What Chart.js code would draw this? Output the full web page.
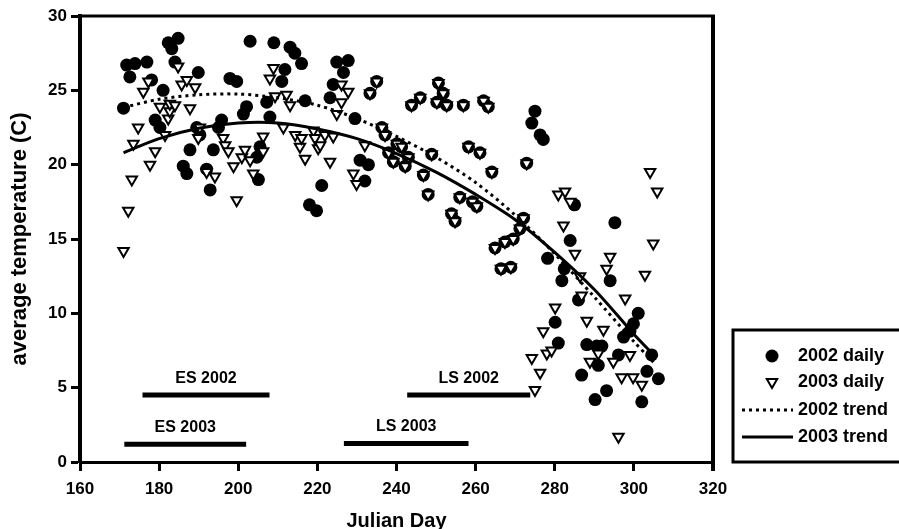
<!DOCTYPE html>
<html><head><meta charset="utf-8">
<script src="https://cdn.jsdelivr.net/npm/chart.js@4.4.1/dist/chart.umd.min.js"></script>
<style>html,body{margin:0;padding:0;background:#fff;}#wrap{width:899px;height:529px;}</style>
</head><body><div id="wrap"><canvas id="c" width="899" height="529"></canvas></div>
<script>
const days2002 = [171.0,171.8,172.6,173.9,176.9,178.1,179.0,180.2,181.0,182.3,183.2,184.0,184.8,186.1,187.0,187.8,189.5,189.9,190.3,192.0,192.9,193.7,195.0,195.8,197.9,199.6,201.3,202.1,203.0,204.7,205.1,205.5,207.2,208.0,209.0,211.0,211.8,213.1,214.3,216.0,216.9,218.0,219.8,221.1,223.2,224.0,224.9,226.6,227.8,229.5,230.8,232.0,232.9,
 233.3,235.0,236.3,237.1,238.0,239.2,240.1,241.3,242.2,243.0,243.8,246.0,246.8,248.0,248.9,250.2,250.6,251.8,252.7,253.9,254.8,256.0,256.9,258.2,259.2,260.3,261.1,262.0,263.2,264.1,264.9,266.4,267.4,268.9,269.5,271.2,272.1,272.9,
 274.2,275.0,276.3,277.1,278.2,280.1,280.9,281.8,282.4,283.9,285.0,286.0,286.8,288.1,290.2,290.6,291.0,291.9,293.1,294.0,295.2,296.1,297.4,299.0,299.9,301.1,302.0,303.3,304.5,306.2];
const temp2002 = [23.8,26.7,25.9,26.8,26.9,25.7,23.0,22.5,25.0,28.2,27.8,26.9,28.5,19.9,19.4,21.0,22.5,26.2,22.0,19.7,18.3,21.0,22.5,23.0,25.8,25.6,23.4,23.9,28.3,20.5,19.0,21.2,24.2,23.2,28.2,25.6,26.4,27.9,27.5,26.8,24.3,17.3,16.9,18.6,24.5,25.4,26.9,26.2,27.0,23.1,20.3,18.9,20.0,
 24.8,25.6,22.5,22.0,20.8,20.2,21.4,21.2,19.9,20.5,24.0,24.5,19.3,18.0,20.7,24.2,25.5,24.8,24.0,16.7,16.2,17.8,24.0,21.2,17.5,17.2,20.8,24.3,23.9,19.5,14.4,13.0,14.8,13.1,15.0,15.7,16.4,20.1,
 22.8,23.6,22.0,21.7,13.7,9.4,8.0,12.2,13.0,14.9,17.3,10.9,5.85,7.9,4.2,7.8,6.5,7.8,4.8,12.2,16.1,7.2,8.4,8.8,9.3,10.0,4.05,6.1,7.2,5.6];
const days2003 = [171.0,172.2,173.1,173.5,174.7,176.0,177.3,177.7,179.0,180.2,181.5,182.3,182.7,182.7,184.0,184.8,185.7,187.0,187.8,189.1,189.9,190.3,192.0,194.1,196.2,196.7,197.5,198.8,199.6,200.9,201.7,203.0,203.8,206.3,206.3,208.0,208.9,209.3,211.4,212.2,213.1,214.4,215.6,216.0,216.9,219.0,219.4,220.2,220.7,221.9,223.2,224.0,224.9,226.1,226.1,227.8,229.1,229.9,232.0,
 233.3,235.0,236.3,237.1,238.0,239.2,240.1,241.3,242.2,243.0,243.8,246.0,246.8,248.0,248.9,250.2,250.6,251.8,252.7,253.9,254.8,256.0,256.9,258.2,259.2,260.3,261.1,262.0,263.2,264.1,264.9,266.4,267.4,268.9,269.5,271.2,272.1,272.9,
 274.2,275.0,276.3,277.1,278.0,279.2,280.1,280.9,282.2,282.6,283.9,285.1,286.4,286.8,288.1,288.9,291.0,292.3,293.1,294.0,294.8,296.1,296.9,297.8,299.0,299.8,302.0,302.8,304.1,304.9,305.9];
const temp2003 = [14.2,16.9,19.0,21.4,22.5,24.9,25.6,20.0,20.9,23.9,22.0,23.1,23.6,24.1,24.0,26.6,25.4,25.7,23.8,25.2,21.8,22.5,19.5,19.2,21.8,21.3,20.9,19.9,17.6,20.5,21.0,20.3,19.4,21.9,20.9,25.8,26.5,24.6,22.5,24.7,24.0,22.0,21.2,21.8,20.4,22.3,21.8,21.1,21.3,22.0,20.2,21.9,23.4,24.2,25.4,24.9,19.4,18.7,21.3,
 24.8,25.6,22.5,22.0,20.8,20.2,21.4,21.2,19.9,20.5,24.0,24.5,19.3,18.0,20.7,24.2,25.5,24.8,24.0,16.7,16.2,17.8,24.0,21.2,17.5,17.2,20.8,24.3,23.9,19.5,14.4,13.0,14.8,13.1,15.0,15.7,16.4,20.1,
 7.0,4.85,6.0,8.8,7.3,7.5,10.4,18.0,15.9,18.2,17.5,14.0,12.5,11.2,9.5,6.75,7.3,8.9,13.0,13.8,6.75,1.7,5.7,11.0,7.2,5.7,5.2,12.6,19.5,14.7,18.2];
const trendDays = [171,180,190,200,210,220,230,240,250,260,270,280,290,300,305];
const trend2002 = [23.85,24.4,24.7,24.75,24.5,24.0,23.1,21.9,20.5,18.8,16.6,14.0,11.1,8.1,6.7];
const trend2003 = [20.8,21.75,22.45,22.8,22.8,22.4,21.75,20.75,19.5,18.0,16.3,14.1,11.6,8.6,7.2];
const periodNames = ['ES 2002','ES 2003','LS 2002','LS 2003'];
const periodStart = [175.8,171.2,242.7,226.7];
const periodEnd = [207.9,202.0,273.8,258.2];
const periodLevel = [4.5,1.2,4.5,1.25];
const seriesNames = ['2002 daily','2003 daily','2002 trend','2003 trend'];
const xTitle = 'Julian Day';
const yTitle = 'average temperature (C)';

const FONT = '"Liberation Sans", Arial, Helvetica, sans-serif';
const pts = (xs, ys) => xs.map((v, i) => ({x: v, y: ys[i]}));

const datasets = [
  {label: seriesNames[0], data: pts(days2002, temp2002), pointStyle: 'circle', pointRadius: 6.5,
   backgroundColor: '#000', borderColor: '#000', borderWidth: 0, showLine: false, order: 3},
  {label: seriesNames[1], data: pts(days2003, temp2003), pointStyle: 'triangle', rotation: 180, pointRadius: 6,
   backgroundColor: '#fff', borderColor: '#000', borderWidth: 2, showLine: false, order: 2},
  {label: seriesNames[2], data: pts(trendDays, trend2002), showLine: true, pointRadius: 0, borderColor: '#000',
   borderWidth: 3, borderDash: [3, 4], tension: 0.3, fill: false, order: 1},
  {label: seriesNames[3], data: pts(trendDays, trend2003), showLine: true, pointRadius: 0, borderColor: '#000',
   borderWidth: 3, tension: 0.3, fill: false, order: 1}
];
periodNames.forEach((n, i) => {
  datasets.push({label: n, data: [{x: periodStart[i], y: periodLevel[i]}, {x: periodEnd[i], y: periodLevel[i]}],
    showLine: true, pointRadius: 0, borderColor: '#000', borderWidth: 5, borderCapStyle: 'butt', order: 0});
});

const framePlugin = {
  id: 'frame',
  afterDraw(chart) {
    const {ctx, chartArea: a, scales: {x, y}} = chart;
    ctx.save();
    ctx.strokeStyle = '#000';
    ctx.lineWidth = 3;
    ctx.beginPath(); ctx.moveTo(a.left, a.top); ctx.lineTo(a.right + 2, a.top); ctx.stroke();
    ctx.lineWidth = 4;
    ctx.beginPath(); ctx.moveTo(a.right, a.top); ctx.lineTo(a.right, a.bottom + 9); ctx.stroke();
    ctx.fillStyle = '#000';
    ctx.font = 'bold 16px ' + FONT;
    ctx.textAlign = 'center'; ctx.textBaseline = 'middle';
    periodNames.forEach((n, i) => {
      ctx.fillText(n, x.getPixelForValue((periodStart[i] + periodEnd[i]) / 2), y.getPixelForValue(periodLevel[i]) - 17);
    });
    ctx.lineWidth = 3;
    ctx.strokeRect(733, 330, 200, 132);
    const rows = [356, 382, 410, 437];
    ctx.font = 'bold 18px ' + FONT;
    ctx.textAlign = 'left';
    seriesNames.forEach((n, i) => ctx.fillText(n, 798, rows[i]));
    Chart.helpers.drawPoint(ctx, {pointStyle: 'circle', radius: 6.5, rotation: 0, borderWidth: 0}, 772, rows[0]);
    ctx.fillStyle = '#fff'; ctx.lineWidth = 2;
    Chart.helpers.drawPoint(ctx, {pointStyle: 'triangle', radius: 6, rotation: 180, borderWidth: 2}, 772, rows[1]);
    ctx.lineWidth = 3;
    ctx.setLineDash([3, 4]);
    ctx.beginPath(); ctx.moveTo(742, rows[2]); ctx.lineTo(793, rows[2]); ctx.stroke();
    ctx.setLineDash([]);
    ctx.beginPath(); ctx.moveTo(742, rows[3]); ctx.lineTo(793, rows[3]); ctx.stroke();
    ctx.restore();
  }
};

new Chart(document.getElementById('c'), {
  type: 'scatter',
  data: {datasets},
  options: {
    responsive: false, animation: false, devicePixelRatio: 1,
    layout: {padding: {left: 0, top: 16, right: 186, bottom: 0}},
    plugins: {legend: {display: false}, tooltip: {enabled: false}},
    scales: {
      x: {type: 'linear', min: 160, max: 320,
        ticks: {stepSize: 20, color: '#000', font: {family: FONT, size: 17, weight: 'bold'}, padding: 8, maxRotation: 0},
        grid: {drawOnChartArea: false, drawTicks: true, tickLength: 9, tickWidth: 3, color: '#000'},
        border: {display: true, color: '#000', width: 3},
        title: {display: true, text: xTitle, color: '#000', font: {family: FONT, size: 20, weight: 'bold', lineHeight: 1}, padding: {top: 0, bottom: -2}},
        afterFit(s) { s.height = 67; }
      },
      y: {type: 'linear', min: 0, max: 30,
        ticks: {stepSize: 5, color: '#000', font: {family: FONT, size: 17, weight: 'bold'}, padding: 4},
        grid: {drawOnChartArea: false, drawTicks: true, tickLength: 9, tickWidth: 3, color: '#000'},
        border: {display: true, color: '#000', width: 4},
        title: {display: true, text: yTitle, color: '#000', font: {family: FONT, size: 22, weight: 'bold', lineHeight: 1}, padding: {top: 9, bottom: 0}},
        afterFit(s) { s.width = 80; }
      }
    }
  },
  plugins: [framePlugin]
});
</script></body></html>
